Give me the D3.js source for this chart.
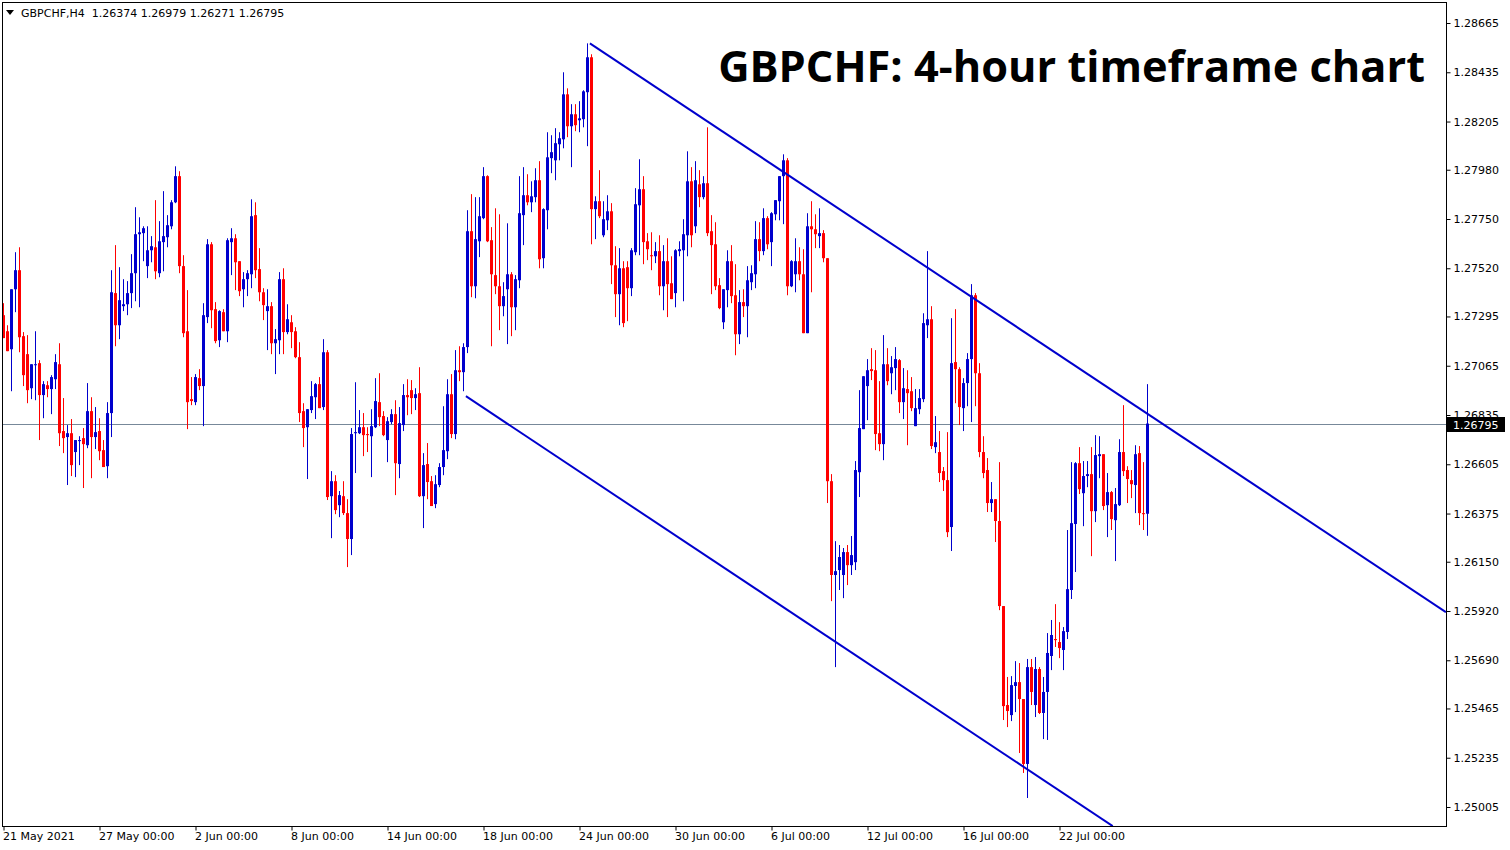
<!DOCTYPE html>
<html><head><meta charset="utf-8">
<script src="https://cdn.jsdelivr.net/npm/d3@7"></script>
<style>
html,body{margin:0;padding:0;background:#fff;}
svg{display:block;}
</style></head>
<body><svg id="chart" width="1510" height="850"></svg>
<script>
const symbolLabel = "GBPCHF,H4";
const headerOHLC = [1.26374, 1.26979, 1.26271, 1.26795];
const chartTitle = "GBPCHF: 4-hour timeframe chart";
const currentPrice = 1.26795;

const openP = [1.27301,1.27226,1.27142,1.27422,1.27511,1.27203,1.27119,1.26960,1.27068,1.27077,1.26928,1.26974,1.26956,1.27002,1.27072,1.26760,1.26732,1.26750,1.26662,1.26713,1.26727,1.26694,1.26853,1.26732,1.26760,1.26671,1.26596,1.26844,1.27404,1.27254,1.27343,1.27352,1.27404,1.27497,1.27679,1.27684,1.27530,1.27604,1.27618,1.27497,1.27642,1.27665,1.27716,1.27828,1.27950,1.27530,1.27226,1.26909,1.26895,1.27007,1.26970,1.27292,1.27632,1.27329,1.27184,1.27315,1.27226,1.27642,1.27660,1.27553,1.27422,1.27469,1.27492,1.27768,1.27516,1.27408,1.27320,1.27343,1.27170,1.27184,1.27469,1.27222,1.27268,1.27226,1.27105,1.26853,1.26778,1.26858,1.26918,1.26979,1.26872,1.27128,1.26456,1.26526,1.26414,1.26456,1.26377,1.26256,1.26750,1.26750,1.26778,1.26746,1.26736,1.26778,1.26895,1.26830,1.26718,1.26802,1.26839,1.26606,1.26788,1.26928,1.26951,1.26914,1.26937,1.26456,1.26606,1.26526,1.26419,1.26508,1.26592,1.26666,1.26932,1.26746,1.27044,1.27035,1.27152,1.27693,1.27436,1.27646,1.27754,1.27950,1.27651,1.27488,1.27436,1.27343,1.27422,1.27492,1.27338,1.27464,1.27768,1.27861,1.27828,1.27852,1.27931,1.27567,1.27791,1.28034,1.28024,1.28099,1.28122,1.28332,1.28183,1.28239,1.28211,1.28216,1.28342,1.28505,1.27796,1.27833,1.27674,1.27744,1.27786,1.27534,1.27399,1.27520,1.27525,1.27427,1.27595,1.27814,1.27889,1.27646,1.27581,1.27576,1.27600,1.27436,1.27553,1.27450,1.27404,1.27600,1.27604,1.27674,1.27926,1.27716,1.27912,1.27852,1.27917,1.27693,1.27632,1.27441,1.27268,1.27418,1.27553,1.27394,1.27212,1.27362,1.27343,1.27455,1.27492,1.27656,1.27600,1.27754,1.27642,1.27772,1.27833,1.27950,1.28024,1.27436,1.27492,1.27553,1.27492,1.27217,1.27716,1.27702,1.27670,1.27684,1.27567,1.26526,1.26088,1.26111,1.26088,1.26195,1.26134,1.26148,1.26568,1.26769,1.26970,1.27049,1.27044,1.26750,1.26699,1.27072,1.27030,1.27054,1.27091,1.26895,1.26956,1.26946,1.26783,1.26862,1.26909,1.27254,1.27282,1.26685,1.26662,1.26573,1.26531,1.26312,1.27082,1.27049,1.26867,1.26984,1.27096,1.27394,1.27030,1.26662,1.26578,1.26424,1.26442,1.26340,1.25943,1.25481,1.25434,1.25570,1.25588,1.25509,1.25206,1.25658,1.25481,1.25649,1.25444,1.25542,1.25710,1.25789,1.25775,1.25738,1.25822,1.26018,1.26326,1.26610,1.26470,1.26550,1.26559,1.26386,1.26643,1.26652,1.26414,1.26475,1.26344,1.26414,1.26662,1.26578,1.26531,1.26508,1.26657,1.26377,1.26374];

const highP = [1.27357,1.27254,1.27422,1.27595,1.27618,1.27222,1.27208,1.27072,1.27226,1.27091,1.26993,1.26993,1.27021,1.27119,1.27170,1.26914,1.26788,1.26816,1.26718,1.26736,1.26774,1.26984,1.26918,1.26872,1.26820,1.26718,1.26895,1.27511,1.27628,1.27525,1.27469,1.27460,1.27586,1.27805,1.27758,1.27716,1.27716,1.27670,1.27838,1.27740,1.27880,1.27768,1.27838,1.27996,1.27973,1.27581,1.27418,1.27012,1.27026,1.27049,1.27357,1.27656,1.27642,1.27362,1.27324,1.27329,1.27660,1.27707,1.27679,1.27553,1.27502,1.27511,1.27842,1.27828,1.27614,1.27427,1.27422,1.27362,1.27236,1.27502,1.27520,1.27352,1.27301,1.27245,1.27175,1.26890,1.26862,1.26993,1.26984,1.27012,1.27189,1.27138,1.26573,1.26554,1.26480,1.26526,1.26442,1.26774,1.26988,1.26858,1.26844,1.26778,1.26862,1.27007,1.27030,1.26853,1.26825,1.26862,1.26904,1.26872,1.26979,1.27002,1.26998,1.26960,1.27058,1.26657,1.26704,1.26550,1.26554,1.26610,1.26876,1.27002,1.27026,1.27138,1.27156,1.27170,1.27791,1.27866,1.27852,1.27852,1.27992,1.27954,1.27712,1.27800,1.27772,1.27455,1.27730,1.27502,1.27488,1.27950,1.27992,1.27959,1.27926,1.27987,1.28020,1.27800,1.28155,1.28141,1.28174,1.28155,1.28435,1.28360,1.28286,1.28286,1.28300,1.28351,1.28570,1.28519,1.27856,1.27978,1.27833,1.27861,1.27824,1.27623,1.27614,1.27553,1.27553,1.27614,1.27894,1.28029,1.27950,1.27684,1.27688,1.27642,1.27674,1.27628,1.27660,1.27576,1.27609,1.27646,1.27749,1.28066,1.27992,1.28020,1.27978,1.27950,1.28178,1.27768,1.27735,1.27474,1.27422,1.27604,1.27628,1.27539,1.27418,1.27422,1.27530,1.27534,1.27740,1.27735,1.27800,1.27763,1.27782,1.27838,1.27950,1.28052,1.28034,1.27558,1.27660,1.27618,1.27609,1.27777,1.27833,1.27772,1.27800,1.27698,1.27567,1.26559,1.26246,1.26228,1.26214,1.26228,1.26270,1.26620,1.26951,1.27016,1.27096,1.27147,1.27138,1.26993,1.27208,1.27147,1.27110,1.27152,1.27096,1.27054,1.27044,1.27012,1.26956,1.26956,1.27310,1.27600,1.27343,1.26830,1.26760,1.26592,1.26755,1.27287,1.27329,1.27058,1.27007,1.27124,1.27446,1.27404,1.27077,1.26736,1.26634,1.26522,1.26442,1.26615,1.25943,1.25612,1.25616,1.25686,1.25677,1.25509,1.25696,1.25696,1.25705,1.25658,1.25612,1.25817,1.25878,1.25952,1.25868,1.25845,1.26298,1.26615,1.26615,1.26685,1.26620,1.26620,1.26685,1.26741,1.26736,1.26652,1.26564,1.26480,1.26494,1.26722,1.26881,1.26596,1.26578,1.26694,1.26690,1.26615,1.26979];

const lowP = [1.27194,1.27133,1.26946,1.27315,1.27128,1.26970,1.26890,1.26909,1.26904,1.26718,1.26820,1.26918,1.26839,1.26956,1.26690,1.26657,1.26508,1.26550,1.26545,1.26601,1.26494,1.26680,1.26540,1.26676,1.26624,1.26592,1.26540,1.26732,1.27156,1.27189,1.27320,1.27301,1.27334,1.27366,1.27338,1.27553,1.27474,1.27548,1.27469,1.27478,1.27506,1.27618,1.27702,1.27824,1.27497,1.27198,1.26769,1.26881,1.26881,1.26951,1.26783,1.27264,1.27240,1.27170,1.27152,1.27226,1.27175,1.27488,1.27418,1.27390,1.27338,1.27390,1.27427,1.27474,1.27366,1.27278,1.27138,1.27119,1.27026,1.27119,1.27119,1.27212,1.27147,1.27100,1.26802,1.26685,1.26536,1.26844,1.26816,1.26867,1.26858,1.26438,1.26260,1.26372,1.26358,1.26368,1.26125,1.26181,1.26564,1.26746,1.26643,1.26662,1.26545,1.26774,1.26783,1.26736,1.26615,1.26792,1.26461,1.26540,1.26760,1.26834,1.26839,1.26858,1.26452,1.26307,1.26442,1.26410,1.26400,1.26498,1.26554,1.26629,1.26727,1.26722,1.26993,1.26946,1.27124,1.27385,1.27380,1.27572,1.27749,1.27642,1.27156,1.27399,1.27231,1.27296,1.27166,1.27203,1.27231,1.27427,1.27628,1.27814,1.27782,1.27828,1.27520,1.27520,1.27702,1.27964,1.27931,1.28024,1.28080,1.28132,1.27992,1.28160,1.28155,1.28178,1.28090,1.27632,1.27656,1.27754,1.27665,1.27698,1.27446,1.27292,1.27254,1.27245,1.27273,1.27390,1.27581,1.27581,1.27539,1.27558,1.27511,1.27544,1.27394,1.27324,1.27292,1.27376,1.27338,1.27576,1.27366,1.27576,1.27618,1.27684,1.27805,1.27842,1.27670,1.27399,1.27418,1.27329,1.27236,1.27338,1.27357,1.27114,1.27166,1.27292,1.27198,1.27418,1.27427,1.27553,1.27581,1.27609,1.27530,1.27744,1.27744,1.27726,1.27394,1.27432,1.27408,1.27464,1.27217,1.27217,1.27408,1.27614,1.27614,1.27548,1.26424,1.25966,1.25658,1.26018,1.25980,1.26041,1.26088,1.26111,1.26452,1.26769,1.26811,1.26998,1.26671,1.26666,1.26624,1.26974,1.26932,1.26951,1.26844,1.26816,1.26694,1.26853,1.26783,1.26839,1.26895,1.27194,1.26676,1.26657,1.26522,1.26480,1.26265,1.26200,1.26890,1.26788,1.26760,1.26876,1.26802,1.26876,1.26638,1.26540,1.26382,1.26382,1.26242,1.25924,1.25411,1.25378,1.25406,1.25448,1.25257,1.25164,1.25047,1.25481,1.25425,1.25439,1.25322,1.25318,1.25644,1.25752,1.25700,1.25644,1.25789,1.25976,1.26102,1.26466,1.26316,1.26498,1.26176,1.26335,1.26540,1.26391,1.26265,1.26298,1.26153,1.26410,1.26550,1.26424,1.26447,1.26377,1.26321,1.26298,1.26271];

const closeP = [1.27194,1.27133,1.27422,1.27511,1.27198,1.27021,1.26951,1.27072,1.27072,1.26928,1.26979,1.26956,1.27012,1.27082,1.26750,1.26727,1.26750,1.26601,1.26718,1.26718,1.26699,1.26853,1.26732,1.26755,1.26666,1.26592,1.26844,1.27408,1.27254,1.27371,1.27352,1.27404,1.27497,1.27679,1.27688,1.27707,1.27604,1.27623,1.27506,1.27646,1.27670,1.27721,1.27828,1.27950,1.27530,1.27217,1.26895,1.26900,1.27012,1.26970,1.27301,1.27632,1.27324,1.27180,1.27320,1.27226,1.27651,1.27660,1.27548,1.27413,1.27469,1.27497,1.27763,1.27511,1.27408,1.27348,1.27343,1.27170,1.27189,1.27469,1.27222,1.27282,1.27222,1.27105,1.26844,1.26774,1.26862,1.26923,1.26979,1.26867,1.27128,1.26452,1.26526,1.26391,1.26461,1.26377,1.26256,1.26746,1.26755,1.26778,1.26741,1.26741,1.26783,1.26900,1.26825,1.26741,1.26806,1.26839,1.26610,1.26797,1.26928,1.26918,1.26914,1.26932,1.26456,1.26601,1.26522,1.26410,1.26512,1.26592,1.26671,1.26932,1.26746,1.27044,1.27035,1.27152,1.27693,1.27436,1.27656,1.27763,1.27950,1.27646,1.27492,1.27436,1.27343,1.27390,1.27492,1.27338,1.27469,1.27777,1.27861,1.27828,1.27856,1.27931,1.27562,1.27796,1.28038,1.28062,1.28104,1.28127,1.28332,1.28183,1.28239,1.28188,1.28220,1.28346,1.28505,1.27796,1.27833,1.27763,1.27749,1.27786,1.27534,1.27399,1.27520,1.27264,1.27427,1.27604,1.27819,1.27889,1.27642,1.27609,1.27576,1.27600,1.27436,1.27553,1.27446,1.27376,1.27604,1.27609,1.27679,1.27926,1.27674,1.27931,1.27852,1.27917,1.27684,1.27628,1.27436,1.27334,1.27422,1.27553,1.27390,1.27212,1.27362,1.27343,1.27464,1.27497,1.27656,1.27600,1.27754,1.27632,1.27777,1.27838,1.27950,1.28024,1.27436,1.27553,1.27553,1.27492,1.27217,1.27716,1.27702,1.27679,1.27684,1.27567,1.26526,1.26088,1.26106,1.26172,1.26195,1.26134,1.26181,1.26578,1.26774,1.27016,1.27044,1.27040,1.26746,1.26699,1.27072,1.26993,1.27058,1.27096,1.26895,1.26960,1.26937,1.26867,1.26867,1.26914,1.27264,1.27282,1.26690,1.26708,1.26564,1.26531,1.26288,1.27077,1.27049,1.26872,1.26984,1.27096,1.27394,1.27030,1.26662,1.26564,1.26424,1.26442,1.26340,1.25943,1.25476,1.25453,1.25574,1.25588,1.25509,1.25206,1.25658,1.25542,1.25649,1.25444,1.25542,1.25724,1.25808,1.25784,1.25747,1.25826,1.26022,1.26330,1.26610,1.26489,1.26550,1.26559,1.26386,1.26648,1.26652,1.26410,1.26475,1.26349,1.26419,1.26662,1.26573,1.26536,1.26512,1.26652,1.26377,1.26372,1.26795];

const dateTickIndex = [0,24,48,72,96,120,144,168,192,216,240,264];
const dateTickLabels = ["21 May 2021","27 May 00:00","2 Jun 00:00","8 Jun 00:00","14 Jun 00:00","18 Jun 00:00","24 Jun 00:00","30 Jun 00:00","6 Jul 00:00","12 Jul 00:00","16 Jul 00:00","22 Jul 00:00"];
const priceTicks = [1.28665,1.28435,1.28205,1.27980,1.27750,1.27520,1.27295,1.27065,1.26835,1.26605,1.26375,1.26150,1.25920,1.25690,1.25465,1.25235,1.25005];

// trend channel anchor points: [candle index, price]
const upperTrend = [[146.6,1.28570],[360.6,1.25915]];
const lowerTrend = [[115.6,1.26923],[277.3,1.24916]];

const BULL = "#0000CD", BEAR = "#FF0000", TREND = "#0000CD";
const FONT = "DejaVu Sans, sans-serif";

const plot = {left:2, top:2, right:1446, bottom:826};
const svg = d3.select("#chart");
const x = d3.scaleLinear().domain([0, 286]).range([3.5, 1147.5]);
const y = d3.scaleLinear().domain([1.25005, 1.28665]).range([807, 23]);

svg.append("rect").attr("width",1510).attr("height",850).attr("fill","#fff");

svg.append("defs").append("clipPath").attr("id","plotclip")
  .append("rect").attr("x",plot.left).attr("y",plot.top)
  .attr("width",plot.right-plot.left).attr("height",plot.bottom-plot.top);

const g = svg.append("g").attr("clip-path","url(#plotclip)");

// current price line
g.append("line").attr("x1",plot.left).attr("x2",plot.right)
  .attr("y1",Math.round(y(currentPrice))+0.5).attr("y2",Math.round(y(currentPrice))+0.5)
  .attr("stroke","#778899").attr("stroke-width",1);

const candles = openP.map((o,i)=>({i, o, h:highP[i], l:lowP[i], c:closeP[i]}));

const cg = g.append("g");
cg.selectAll("line.wick").data(candles).join("line").attr("class","wick")
  .attr("x1",d=>x(d.i)).attr("x2",d=>x(d.i))
  .attr("y1",d=>y(d.h)).attr("y2",d=>y(d.l))
  .attr("stroke",d=>d.c>=d.o?BULL:BEAR).attr("stroke-width",1);
cg.selectAll("rect.body").data(candles).join("rect").attr("class","body")
  .attr("x",d=>x(d.i)-1.5).attr("width",3)
  .attr("y",d=>y(Math.max(d.o,d.c)))
  .attr("height",d=>Math.max(1, y(Math.min(d.o,d.c))-y(Math.max(d.o,d.c))))
  .attr("fill",d=>d.c>=d.o?BULL:BEAR);

// trend channel
[upperTrend, lowerTrend].forEach(t=>{
  g.append("line")
    .attr("x1",x(t[0][0])).attr("y1",y(t[0][1]))
    .attr("x2",x(t[1][0])).attr("y2",y(t[1][1]))
    .attr("stroke",TREND).attr("stroke-width",2);
});

// frame
svg.append("rect").attr("x",plot.left+0.5).attr("y",plot.top+0.5)
  .attr("width",plot.right-plot.left).attr("height",plot.bottom-plot.top)
  .attr("fill","none").attr("stroke","#000").attr("stroke-width",1);

// right price axis
const yAxis = d3.axisRight(y).tickValues(priceTicks).tickFormat(d3.format(".5f"))
  .tickSize(4).tickSizeOuter(0).tickPadding(3);
const ya = svg.append("g").attr("transform",`translate(${plot.right+0.5},0)`).call(yAxis);
ya.select(".domain").remove();
ya.selectAll("text").attr("font-family",FONT).attr("font-size",11).attr("fill","#000");
ya.selectAll("line").attr("stroke","#000");

// bottom time axis
const xa = svg.append("g").attr("transform",`translate(0,${plot.bottom+0.5})`)
  .call(d3.axisBottom(x).tickValues(dateTickIndex)
    .tickFormat((d,k)=>dateTickLabels[k]).tickSize(4).tickSizeOuter(0).tickPadding(2));
xa.select(".domain").remove();
xa.selectAll("line").attr("stroke","#000");
xa.selectAll("text").attr("font-family",FONT).attr("font-size",11).attr("fill","#000")
  .attr("text-anchor","start").attr("dx",-1);

// current price tag
const cy = Math.round(y(currentPrice));
svg.append("rect").attr("x",plot.right+1).attr("y",cy-7).attr("width",58).attr("height",15).attr("fill","#000");
svg.append("text").attr("x",plot.right+7).attr("y",cy+4.5)
  .attr("font-family",FONT).attr("font-size",11).attr("fill","#fff")
  .text(d3.format(".5f")(currentPrice));

// header
svg.append("path").attr("d","M6,10 L14,10 L10,15 Z").attr("fill","#000");
svg.append("text").attr("x",21).attr("y",17).attr("font-family",FONT).attr("font-size",11).attr("fill","#000")
  .attr("xml:space","preserve")
  .text(symbolLabel + "  " + headerOHLC.map(d3.format(".5f")).join(" "));

// title
const tt = svg.append("text").attr("x",1425).attr("y",82).attr("text-anchor","end")
  .attr("font-family","Open Sans, sans-serif").attr("font-weight","bold").attr("font-size",46)
  .attr("fill","#000").text(chartTitle);
const w = tt.node().getComputedTextLength();
tt.attr("font-size", 46*707/w);
</script>
</body></html>
